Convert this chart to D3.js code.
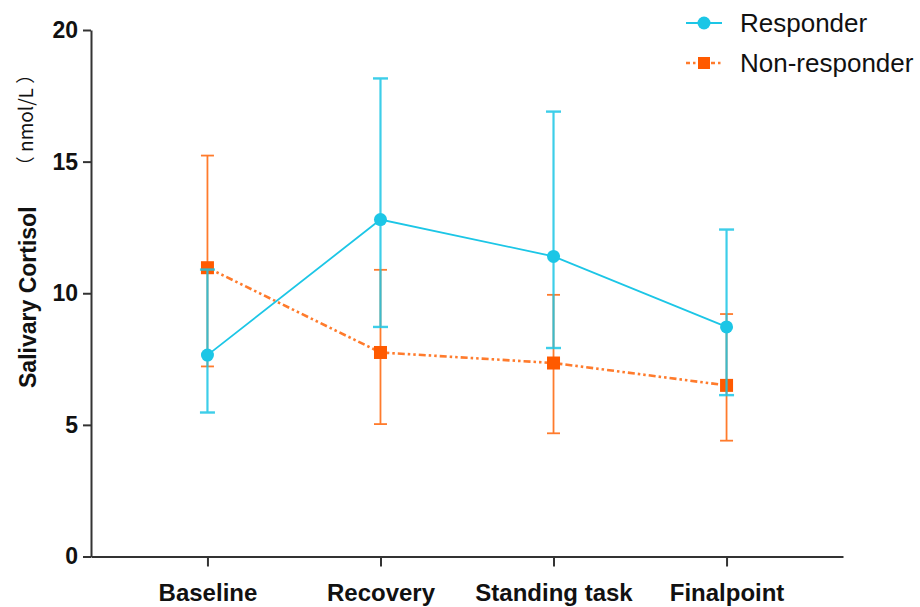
<!DOCTYPE html>
<html>
<head>
<meta charset="utf-8">
<script src="https://cdn.jsdelivr.net/npm/d3@7"></script>
<style>
  html, body { margin: 0; padding: 0; background: #fff; }
  svg { display: block; font-family: "Liberation Sans", Arial, sans-serif; }
</style>
</head>
<body>
<svg id="chart" width="920" height="607"></svg>
<script>
const categories = ["Baseline", "Recovery", "Standing task", "Finalpoint"];
const yTicks = [0, 5, 10, 15, 20];

const responderMean  = [7.65, 12.8, 11.4, 8.72];
const responderUpper = [10.9, 18.16, 16.9, 12.42];
const responderLower = [5.47, 8.72, 7.92, 6.13];

const nonMean  = [10.97, 7.75, 7.35, 6.5];
const nonUpper = [15.23, 10.89, 9.94, 9.21];
const nonLower = [7.22, 5.03, 4.68, 4.4];

const seriesNames = ["Responder", "Non-responder"];

const cyan = "#1CC6E6";
const orangeLine = "#FF7B2C";
const orangeMark = "#FF5A00";

const svg = d3.select("#chart");

const x = d3.scalePoint().domain(categories).range([91, 843]).padding(0.673);
const y = d3.scaleLinear().domain([0, 20]).range([556.5, 30]);

// Y axis
const yAxis = svg.append("g")
  .attr("transform", "translate(91,0)")
  .call(d3.axisLeft(y).tickValues(yTicks).tickSize(8).tickSizeOuter(0).tickPadding(5));
yAxis.select(".domain").attr("stroke", "#333").attr("stroke-width", 2);
yAxis.selectAll(".tick line").attr("stroke", "#333").attr("stroke-width", 2);
yAxis.selectAll(".tick text")
  .attr("fill", "#111").attr("font-size", 23).attr("font-weight", "bold")
  .attr("font-family", "Liberation Sans, Arial, sans-serif");

// X axis
const xAxis = svg.append("g")
  .attr("transform", "translate(0,556.5)")
  .call(d3.axisBottom(x).tickSize(10).tickSizeOuter(0).tickPadding(17));
xAxis.select(".domain").attr("stroke", "#333").attr("stroke-width", 2);
xAxis.selectAll(".tick line").attr("stroke", "#333").attr("stroke-width", 2);
xAxis.selectAll(".tick text")
  .attr("fill", "#111").attr("font-size", 24).attr("font-weight", "bold")
  .attr("font-family", "Liberation Sans, Arial, sans-serif")
  .attr("dy", "0.71em");

// Y axis title
svg.append("text")
  .attr("transform", "translate(36,388) rotate(-90)")
  .attr("text-anchor", "start")
  .attr("font-size", 23).attr("font-weight", "bold").attr("fill", "#111")
  .text("Salivary Cortisol");
svg.append("text")
  .attr("transform", "translate(33,120) rotate(-90)")
  .attr("text-anchor", "middle")
  .attr("font-size", 19).attr("fill", "#111")
  .attr("font-family", "Noto Sans CJK SC, Liberation Sans, sans-serif")
  .text("（ nmol/L ）");

const idx = categories.map((c, i) => i);

// Non-responder error bars
const gNon = svg.append("g");
const capW = 13;
gNon.selectAll("line.v").data(idx).join("line")
  .attr("x1", i => x(categories[i])).attr("x2", i => x(categories[i]))
  .attr("y1", i => y(nonUpper[i])).attr("y2", i => y(nonLower[i]))
  .attr("stroke", orangeLine).attr("stroke-width", 1.8);
[nonUpper, nonLower].forEach(arr => {
  gNon.append("g").selectAll("line").data(idx).join("line")
    .attr("x1", i => x(categories[i]) - capW / 2).attr("x2", i => x(categories[i]) + capW / 2)
    .attr("y1", i => y(arr[i])).attr("y2", i => y(arr[i]))
    .attr("stroke", orangeLine).attr("stroke-width", 1.8);
});

// Non-responder line
const lineGen = d3.line().x(d => x(d[0])).y(d => y(d[1]));
svg.append("path")
  .attr("d", lineGen(categories.map((c, i) => [c, nonMean[i]])))
  .attr("fill", "none").attr("stroke", orangeLine).attr("stroke-width", 2.6)
  .attr("stroke-dasharray", "7,3,2.5,3,2.5,3");

// Non-responder markers
svg.append("g").selectAll("rect").data(idx).join("rect")
  .attr("x", i => x(categories[i]) - 6.5).attr("y", i => y(nonMean[i]) - 6.5)
  .attr("width", 13).attr("height", 13).attr("fill", orangeMark);

// Responder error bars
const gRes = svg.append("g").attr("opacity", 0.85);
gRes.selectAll("line.v").data(idx).join("line")
  .attr("x1", i => x(categories[i])).attr("x2", i => x(categories[i]))
  .attr("y1", i => y(responderUpper[i])).attr("y2", i => y(responderLower[i]))
  .attr("stroke", cyan).attr("stroke-width", 2.2);
[responderUpper, responderLower].forEach(arr => {
  gRes.append("g").selectAll("line").data(idx).join("line")
    .attr("x1", i => x(categories[i]) - capW / 2 - 1).attr("x2", i => x(categories[i]) + capW / 2 + 1)
    .attr("y1", i => y(arr[i])).attr("y2", i => y(arr[i]))
    .attr("stroke", cyan).attr("stroke-width", 2.4);
});

// Responder line
svg.append("path")
  .attr("d", lineGen(categories.map((c, i) => [c, responderMean[i]])))
  .attr("fill", "none").attr("stroke", cyan).attr("stroke-width", 1.8);

// Responder markers
svg.append("g").selectAll("circle").data(idx).join("circle")
  .attr("cx", i => x(categories[i])).attr("cy", i => y(responderMean[i]))
  .attr("r", 6.5).attr("fill", cyan);

// Legend
const leg = svg.append("g");
leg.append("line").attr("x1", 686).attr("x2", 722).attr("y1", 23).attr("y2", 23)
  .attr("stroke", cyan).attr("stroke-width", 1.8);
leg.append("circle").attr("cx", 704).attr("cy", 23).attr("r", 6.5).attr("fill", cyan);
leg.append("text").attr("x", 740).attr("y", 32).attr("font-size", 26).attr("fill", "#111")
  .text(seriesNames[0]);
leg.append("line").attr("x1", 686).attr("x2", 722).attr("y1", 63).attr("y2", 63)
  .attr("stroke", orangeLine).attr("stroke-width", 2.6).attr("stroke-dasharray", "4,3,2.5,3");
leg.append("rect").attr("x", 698).attr("y", 57).attr("width", 12).attr("height", 12).attr("fill", orangeMark);
leg.append("text").attr("x", 740).attr("y", 72).attr("font-size", 26).attr("fill", "#111")
  .text(seriesNames[1]);
</script>
</body>
</html>
